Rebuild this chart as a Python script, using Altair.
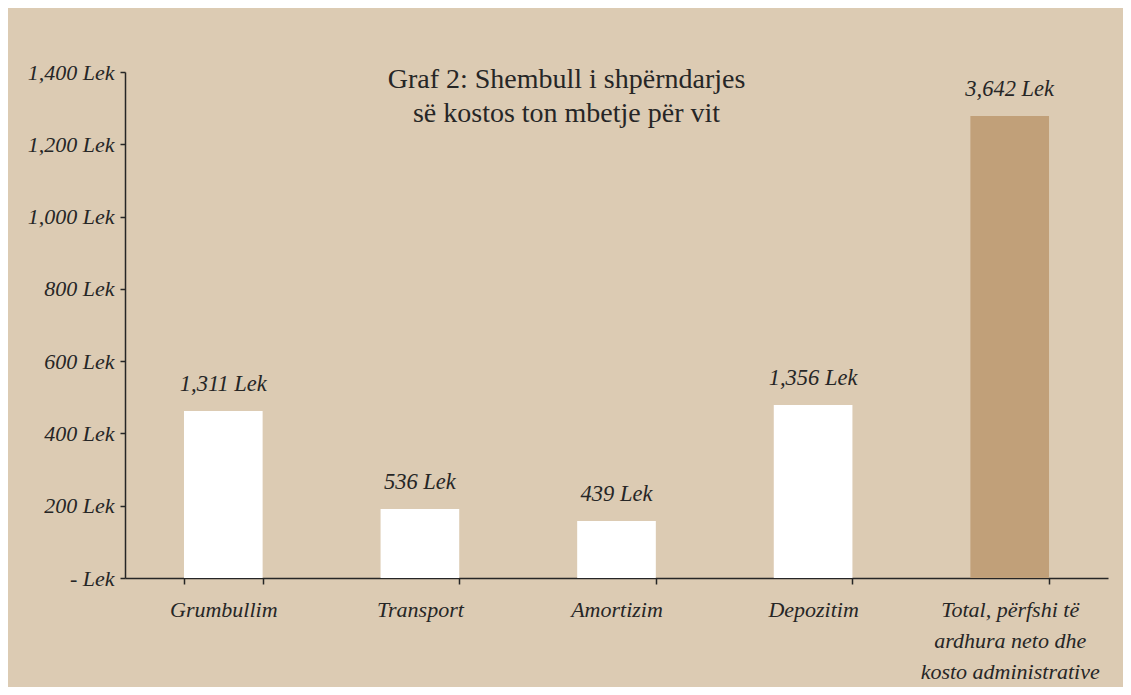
import altair as alt
import pandas as pd

categories = ["Grumbullim", "Transport", "Amortizim", "Depozitim",
              "Total, përfshi të\nardhura neto dhe\nkosto administrative"]
bar_values = [462, 191, 158, 479, 1278]
bar_labels = ["1,311 Lek", "536 Lek", "439 Lek", "1,356 Lek", "3,642 Lek"]
bar_kind = ["part", "part", "part", "part", "total"]
y_ticks = [0, 200, 400, 600, 800, 1000, 1200, 1400]

df = pd.DataFrame({"cat": categories, "val": bar_values, "lab": bar_labels, "kind": bar_kind})

FONT = "Liberation Serif"
BG = "#DCCBB3"
INK = "#262626"

x = alt.X("cat:N", sort=None,
          scale=alt.Scale(paddingInner=0.6, paddingOuter=0.3),
          axis=alt.Axis(title=None, labelAngle=0, tickBand="extent", tickSize=6,
                        domainColor=INK, tickColor=INK, domainWidth=1.5, tickWidth=1.5,
                        labelFont=FONT, labelFontStyle="italic", labelFontSize=22,
                        labelColor=INK, labelPadding=15, labelLineHeight=31,
                        labelBaseline="top", labelLimit=400,
                        labelExpr="split(datum.label, '\\n')"))
y = alt.Y("val:Q",
          scale=alt.Scale(domain=[0, 1400], nice=False),
          axis=alt.Axis(title=None, values=y_ticks, grid=False, tickSize=5,
                        domainColor=INK, tickColor=INK, domainWidth=1.5, tickWidth=1.5,
                        labelFont=FONT, labelFontStyle="italic", labelFontSize=22,
                        labelColor=INK, labelPadding=6,
                        labelExpr="datum.value == 0 ? '- Lek' : format(datum.value, ',') + ' Lek'"))

bars = alt.Chart(df).mark_bar().encode(
    x=x, y=y,
    color=alt.Color("kind:N", scale=alt.Scale(domain=["part", "total"], range=["#FFFFFF", "#C1A079"]), legend=None),
)
texts = alt.Chart(df).mark_text(font=FONT, fontStyle="italic", fontSize=22.5, color=INK,
                                baseline="alphabetic", dy=-20).encode(
    x=alt.X("cat:N", sort=None), y=alt.Y("val:Q"), text="lab:N")

chart = alt.layer(bars, texts).properties(
    width=983, height=506,
    background=BG,
    padding={"left": 117, "top": 64, "right": 15, "bottom": 109},
    autosize=alt.AutoSizeParams(type="none"),
    title=alt.TitleParams(text=["Graf 2: Shembull i shpërndarjes", "së kostos ton mbetje për vit"],
                          font=FONT, fontSize=28, fontWeight="normal", color=INK,
                          anchor="middle", frame="group", baseline="top", offset=0,
                          dx=-50, dy=67, lineHeight=34),
).configure_view(stroke=None)

chart.save("out.html", embed_options={"renderer": "svg", "actions": False})
